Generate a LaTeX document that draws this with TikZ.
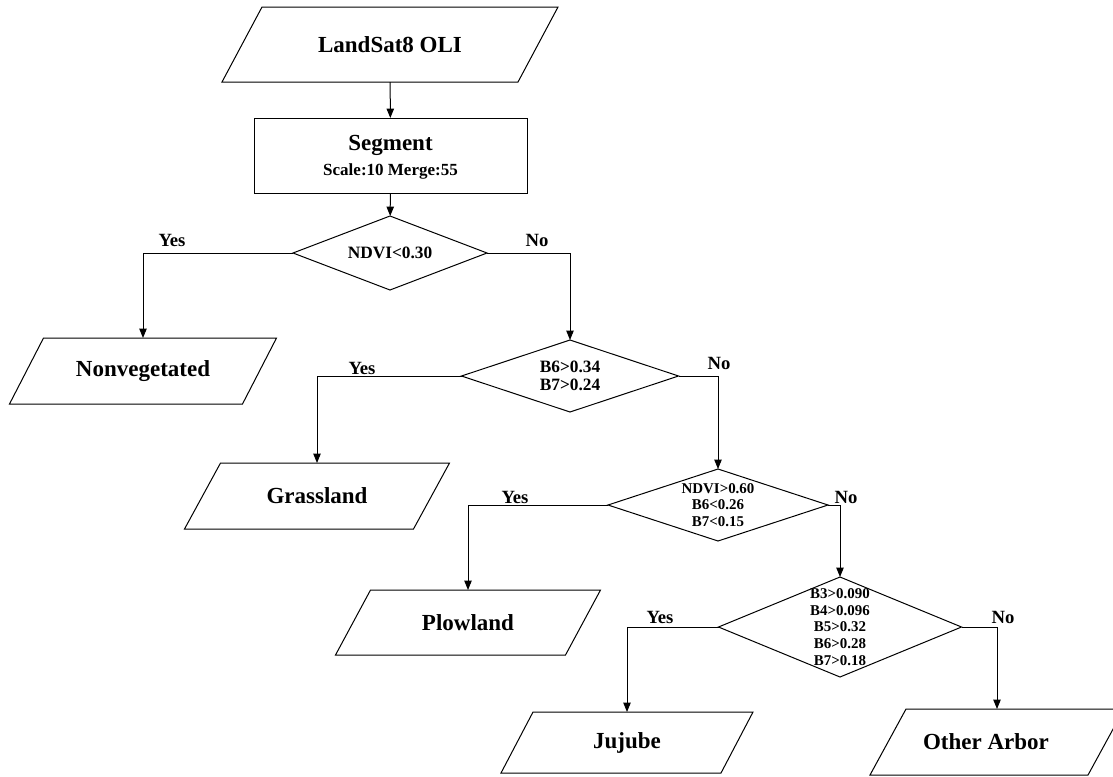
\documentclass[tikz,border=0pt]{standalone}
\usepackage{fontspec}
\setmainfont{Liberation Serif}
\usetikzlibrary{arrows.meta,calc}
\begin{document}
\begin{tikzpicture}[x=0.75pt,y=-0.75pt,
  line width=0.75pt,
  >={Triangle[length=7pt,width=5.5pt]},
  big/.style={font=\fontsize{17.25}{20}\selectfont\bfseries},
  small/.style={font=\fontsize{12.75}{14}\selectfont\bfseries},
  yn/.style={font=\fontsize{14}{16}\selectfont\bfseries},
  condA/.style={font=\fontsize{13}{13.5}\selectfont\bfseries, align=center},
  condB/.style={font=\fontsize{11.2}{12.5}\selectfont\bfseries, align=center},
  shapebox/.style 2 args={minimum width=#1*0.75pt, minimum height=#2*0.75pt, inner sep=0pt, outer sep=0pt},
  conn/.style={->}
]
\useasboundingbox (0,0) rectangle (1113,776);
\clip (0,0) rectangle (1113,776);

% input and process
\node[shapebox={296}{75}, big] (src) at (390,44.5) {LandSat8 OLI};
\node[shapebox={273}{75}, draw] (seg) at (390.5,155.5) {};
\node[big] (segt) at (390.5,145) {Segment};
\node[small] (segs) at (390.5,171) {Scale:10 Merge:55};

% decisions
\node[shapebox={194}{74}, condA] (d1) at (390,253) {NDVI<0.30};
\node[shapebox={217}{72}, condA] (d2) at (570,376) {B6>0.34\\B7>0.24};
\node[shapebox={220}{72}, condB] (d3) at (718,505) {NDVI>0.60\\B6<0.26\\B7<0.15};
\node[shapebox={243}{100}, condB] (d4) at (840,627) {B3>0.090\\B4>0.096\\B5>0.32\\B6>0.28\\B7>0.18};

% outputs
\node[shapebox={233}{66}, big] (nonveg) at (143,371) {Nonvegetated};
\node[shapebox={229}{66}, big] (grass) at (317,496) {Grassland};
\node[shapebox={230}{65}, big] (plow) at (468,622.5) {Plowland};
\node[shapebox={220}{61}, big] (jujube) at (627,742.5) {Jujube};
\node[shapebox={218}{66}, draw=none] (other) at (997,742) {};
\node[big] (othert) at (986,742) {Other Arbor};

\foreach \n/\s in {src/20,nonveg/17,grass/18,plow/17.5,jujube/16,other/18}
  \draw ($(\n.north west)+(\s,0)$) -- ($(\n.north east)+(\s,0)$)
     -- ($(\n.south east)-(\s,0)$) -- ($(\n.south west)-(\s,0)$) -- cycle;
\foreach \n in {d1,d2,d3,d4}
  \draw (\n.north) -- (\n.east) -- (\n.south) -- (\n.west) -- cycle;

% connectors
\draw[conn] (src) -- (seg);
\draw[conn] (seg) -- (d1);
\draw[conn] (d1.west) -| (nonveg.north);
\draw[conn] (d1.east) -| (d2.north);
\draw[conn] (d2.west) -| (grass.north);
\draw[conn] (d2.east) -| (d3.north);
\draw[conn] (d3.west) -| (plow.north);
\draw[conn] (d3.east) -| (d4.north);
\draw[conn] (d4.west) -| (jujube.north);
\draw[conn] (d4.east) -| (other.north);

% labels
\node[yn] (y1) at (172,240) {Yes};
\node[yn] (n1) at (537,240) {No};
\node[yn] (y2) at (362,368) {Yes};
\node[yn] (n2) at (719,363) {No};
\node[yn] (y3) at (515,497) {Yes};
\node[yn] (n3) at (846,497) {No};
\node[yn] (y4) at (660,617) {Yes};
\node[yn] (n4) at (1003,617) {No};
\end{tikzpicture}
\end{document}
